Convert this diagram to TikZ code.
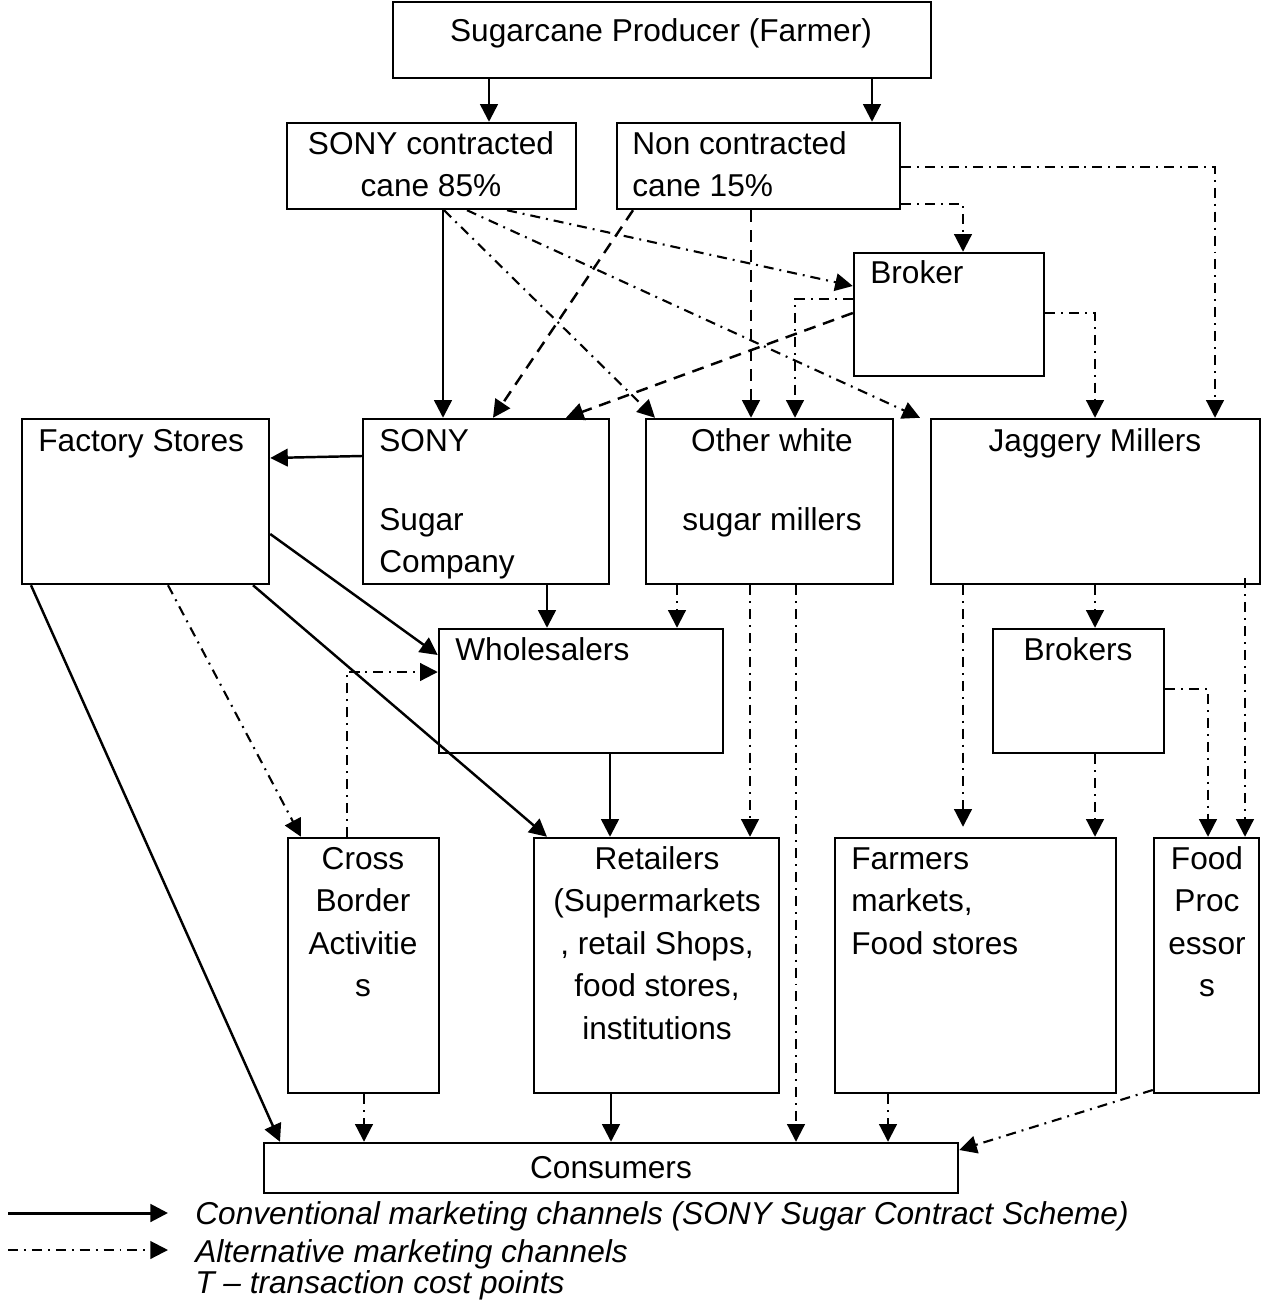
\documentclass[tikz,border=0pt]{standalone}
\usepackage{fontspec}
\setmainfont{Liberation Sans}
\usepackage{tikz}
\usetikzlibrary{arrows.meta}
\usetikzlibrary{fit}

\tikzset{
  box/.style={draw, line width=1.4pt, inner sep=0pt},
  lbl/.style={inner sep=0pt, font=\fontsize{18}{24.2}\selectfont},
  legtxt/.style={inner sep=0pt, anchor=base west, font=\fontsize{18}{24.2}\selectfont\itshape},
  conv/.style={line width=1.4pt, -{Triangle[length=10pt,width=10pt]}},
  dsh/.style={line width=1.4pt, dash pattern=on 6.8pt off 4.5pt, -{Triangle[length=10pt,width=10pt]}},
  alt/.style={line width=1.2pt, dash pattern=on 5.7pt off 3.4pt on 1.1pt off 3.4pt, -{Triangle[length=10pt,width=10pt]}},
}

\begin{document}
\begin{tikzpicture}[x=0.02cm, y=-0.02cm]
\useasboundingbox (0,0) rectangle (1270,1302);
%%% The boxes of the marketing chain
\node[box, fit={(393,2) (931,78)}] (farmer) {};
\node[box, fit={(287,123) (576,209)}] (sonyC) {};
\node[box, fit={(617,123) (900,209)}] (nonC) {};
\node[box, fit={(854,253) (1044,376)}] (broker) {};
\node[box, fit={(22,419) (269,584)}] (fs) {};
\node[box, fit={(363,419) (609,584)}] (sony) {};
\node[box, fit={(646,419) (893,584)}] (other) {};
\node[box, fit={(931,419) (1260,584)}] (jag) {};
\node[box, fit={(439,629) (723,753)}] (whole) {};
\node[box, fit={(993,629) (1164,753)}] (brokers) {};
\node[box, fit={(288,838) (439,1093)}] (cb) {};
\node[box, fit={(534,838) (779,1093)}] (ret) {};
\node[box, fit={(835,838) (1116,1093)}] (fm) {};
\node[box, fit={(1154,838) (1259,1093)}] (food) {};
\node[box, fit={(264,1143) (958,1193)}] (cons) {};
%%% The texts in the boxes
\node[lbl, anchor=north] (farmerT) at (661,11) {\strut Sugarcane Producer (Farmer)};
\node[lbl, anchor=north, align=center] (sonyCT) at (431,124) {\strut SONY contracted\\cane 85\%};
\node[lbl, anchor=north west, align=left] (nonCT) at (632,124) {\strut Non contracted\\cane 15\%};
\node[lbl, anchor=north west] (brokerT) at (870,253) {\strut Broker};
\node[lbl, anchor=north west] (fsT) at (38,421) {\strut Factory Stores};
\node[lbl, anchor=north west, align=left] (sonyT) at (379,421) {\strut SONY\\[20.7pt]Sugar\\Company};
\node[lbl, anchor=north, align=center] (otherT) at (772,421) {\strut Other white\\[20.7pt]sugar millers};
\node[lbl, anchor=north] (jagT) at (1095,421) {\strut Jaggery Millers};
\node[lbl, anchor=north west] (wholeT) at (455,630) {\strut Wholesalers};
\node[lbl, anchor=north] (brokersT) at (1078,630) {\strut Brokers};
\node[lbl, anchor=north, align=center] (cbT) at (363,839) {\strut Cross\\Border\\Activitie\\s};
\node[lbl, anchor=north, align=center] (retT) at (657,839) {\strut Retailers\\(Supermarkets\\, retail Shops,\\food stores,\\institutions};
\node[lbl, anchor=north west, align=left] (fmT) at (851,839) {\strut Farmers\\markets,\\Food stores};
\node[lbl, anchor=north, align=center] (foodT) at (1207,839) {\strut Food\\Proc\\essor\\s};
\node[lbl] (consT) at (cons.center) {Consumers};
%%% Conventional channels
\draw[conv] (farmer.south -| 489,0) -- (sonyC.north -| 489,0);
\draw[conv] (farmer.south -| 872,0) -- (nonC.north -| 872,0);
\draw[conv] (sonyC.south -| 443,0) -- (sony.north -| 443,0);
\draw[conv] (sony.west |- 0,456) -- (fs.east |- 0,458);
\draw[conv] (fs.east |- 0,534) -- (whole.west |- 0,655);
\draw[conv] (fs.south -| 253,0) -- (ret.north -| 547,0);
\draw[conv] (fs.south -| 31,0) -- (cons.north -| 280,0);
\draw[conv] (sony.south -| 547,0) -- (whole.north -| 547,0);
\draw[conv] (whole.south -| 610,0) -- (ret.north -| 610,0);
\draw[conv] (ret.south -| 611,0) -- (cons.north -| 611,0);
%%% Dashed channels
\draw[dsh] (nonC.south -| 633,0) -- (sony.north -| 493,0);
\draw[dsh] (broker.west |- 0,313) -- (sony.north -| 566,0);
\draw[dsh] (nonC.south -| 751,0) -- (other.north -| 751,0);
%%% Alternative channels
\draw[alt] (sonyC.south -| 507,0) -- (broker.west |- 0,286);
\draw[alt] (sonyC.south -| 444,0) -- (other.north -| 655,0);
\draw[alt] (sonyC.south -| 467,0) -- (jag.north -| 920,0);
\draw[alt] (nonC.east |- 0,204) -| (broker.north -| 963,0);
\draw[alt] (nonC.east |- 0,167) -| (jag.north -| 1215,0);
\draw[alt] (broker.east |- 0,313) -| (jag.north -| 1095,0);
\draw[alt] (broker.west |- 0,299) -| (other.north -| 795,0);
\draw[alt] (other.south -| 677,0) -- (whole.north -| 677,0);
\draw[alt] (other.south -| 750,0) -- (ret.north -| 750,0);
\draw[alt] (other.south -| 796,0) -- (cons.north -| 796,0);
\draw[alt] (jag.south -| 963,0) -- ([yshift=0.2cm]fm.north -| 963,0);
\draw[alt] (jag.south -| 1095,0) -- (brokers.north -| 1095,0);
\draw[alt] (brokers.south -| 1095,0) -- (fm.north -| 1095,0);
\draw[alt] (brokers.east |- 0,689) -| (food.north -| 1208,0);
\draw[alt] ([yshift=0.14cm]jag.south -| 1245,0) -- (food.north -| 1245,0);
\draw[alt] (cb.north -| 347,0) |- (whole.west |- 0,672);
\draw[alt] (fs.south -| 168,0) -- (cb.north -| 301,0);
\draw[alt] (cb.south -| 364,0) -- (cons.north -| 364,0);
\draw[alt] (fm.south -| 888,0) -- (cons.north -| 888,0);
\draw[alt] (food.west |- 0,1090) -- (cons.east |- 0,1150);
%%% Legend
\coordinate (convA) at (8,1213);
\coordinate (convB) at (168,1213);
\coordinate (altA) at (8,1250);
\coordinate (altB) at (168,1250);
\draw[conv, line width=1.7pt] (convA) -- (convB);
\draw[alt] (altA) -- (altB);
\node[legtxt] (convT) at (195,1224) {Conventional marketing channels (SONY Sugar Contract Scheme)};
\node[legtxt] (altT) at (195,1262) {Alternative marketing channels};
\node[legtxt] (tcT) at (195,1293) {T – transaction cost points};
\end{tikzpicture}
\end{document}
